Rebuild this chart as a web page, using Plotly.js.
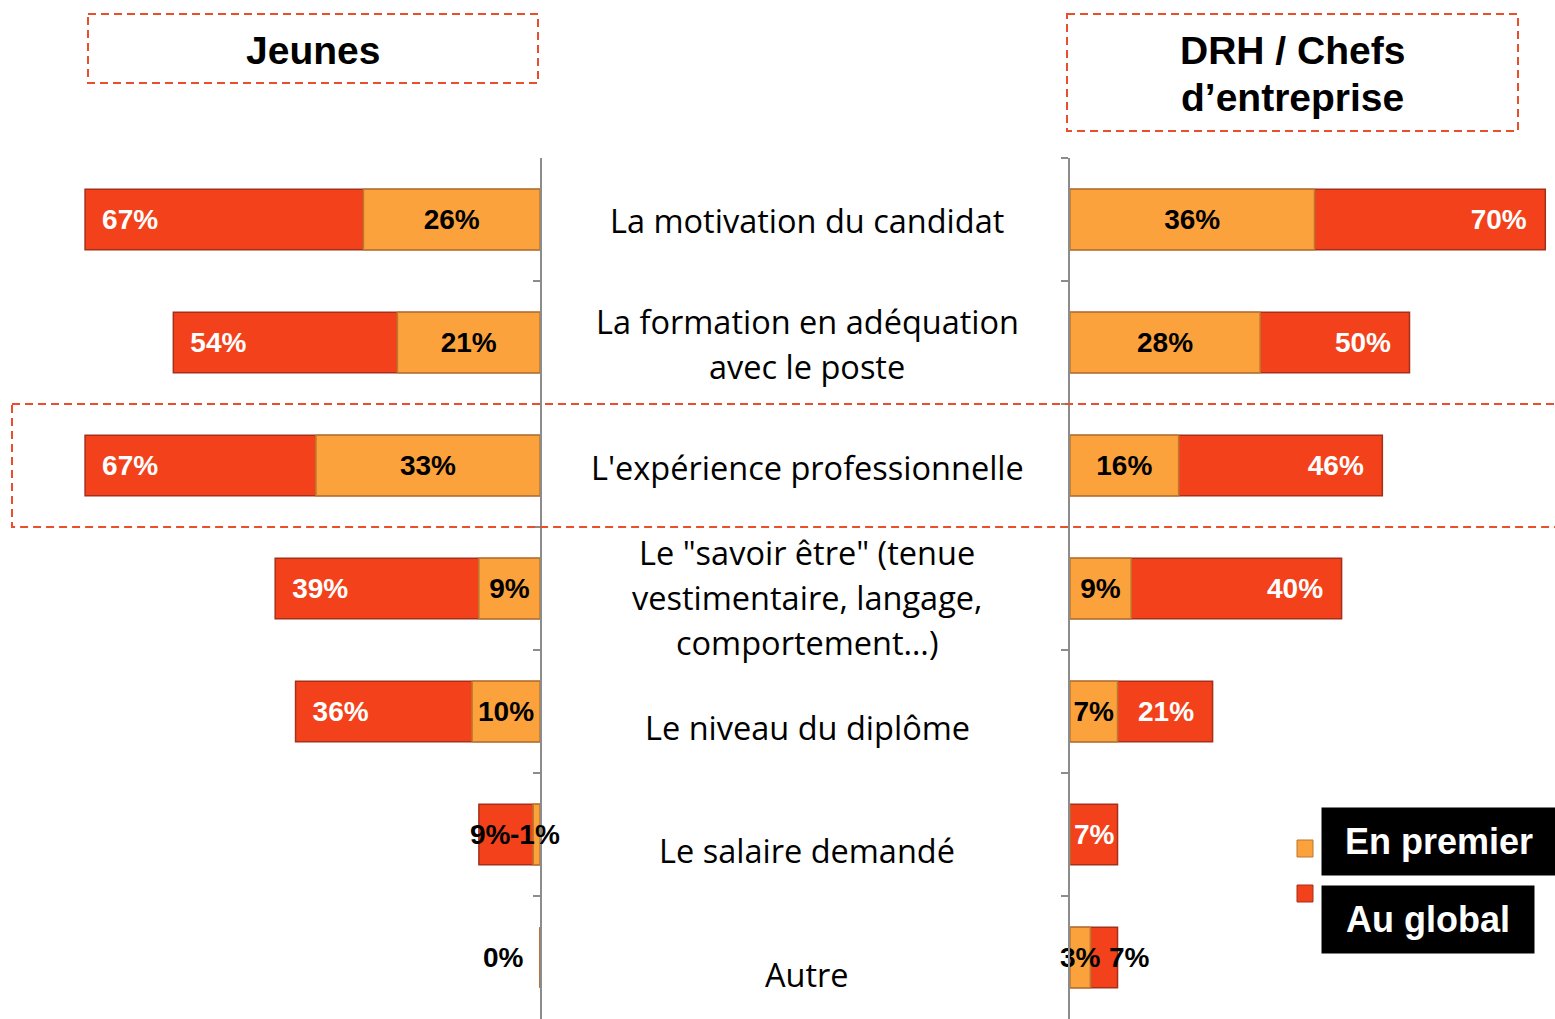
<!DOCTYPE html>
<html><head><meta charset="utf-8">
<script src="https://cdn.plot.ly/plotly-3.0.1.min.js"></script>
<style>html,body{margin:0;padding:0;background:#fff}#chart{width:1555px;height:1019px}</style>
</head><body><div id="chart"></div>
<script>
// ---- data ----
const categories = [
  'La motivation du candidat',
  'La formation en adéquation<br>avec le poste',
  "L'expérience professionnelle",
  'Le "savoir être" (tenue<br>vestimentaire, langage,<br>comportement…)',
  'Le niveau du diplôme',
  'Le salaire demandé',
  'Autre'
];
const jeunesGlobal  = [67, 54, 67, 39, 36, 9, 0];
const jeunesPremier = [26, 21, 33, 9, 10, 1, 0];
const jeunesPremierLabels = ['26%', '21%', '33%', '9%', '10%', '-1%', '0%'];
const drhGlobal  = [70, 50, 46, 40, 21, 7, 7];
const drhPremier = [36, 28, 16, 9, 7, 0, 3];
const legendLabels = ['En premier', 'Au global'];
const panelTitles = ['Jeunes', 'DRH / Chefs<br>d’entreprise'];

// ---- style ----
const W = 1555, H = 1019;
const RED = '#F3421B', RED_LINE = '#A5301A';
const ORANGE = '#FBA23C', ORANGE_LINE = '#B9792F';
const DASH = '#EA4F2C';
const LABEL_FONT = 'Liberation Sans, Arial, sans-serif';
const px = v => v / W, py = v => 1 - v / H;
const pad = v => (v >= 15 ? '\u2002' : '');
const padR = v => (v >= 15 ? '\u00A0\u00A0' : '');
const labelFont = c => ({family: LABEL_FONT, size: 28, weight: 'bold', color: c});

const common = {type: 'bar', orientation: 'h', width: 0.49, textangle: 0,
  constraintext: 'none', cliponaxis: false, hoverinfo: 'skip', showlegend: false};

// labels for the tiny bars are placed as annotations below (index 5 left, 6 right)
const jRedText = jeunesGlobal.map((v, i) => i === 5 ? '' : pad(v) + v + '%');
const jOrText = jeunesPremierLabels.map((t, i) => i === 5 ? '' : t);
const dRedText = drhGlobal.map((v, i) => i === 6 ? '' : v + '%' + padR(v));

const traces = [
  Object.assign({}, common, {
    name: legendLabels[1], x: jeunesGlobal, y: categories, xaxis: 'x', yaxis: 'y',
    marker: {color: RED, line: {color: RED_LINE, width: 1.5}},
    text: jRedText, textposition: 'inside', insidetextanchor: 'end',
    textfont: labelFont('#fff')
  }),
  Object.assign({}, common, {
    name: legendLabels[0], x: jeunesPremier, y: categories, xaxis: 'x', yaxis: 'y',
    marker: {color: ORANGE, line: {color: ORANGE_LINE, width: 1.5}},
    text: jOrText, textposition: 'inside', insidetextanchor: 'middle',
    textfont: labelFont('#000')
  }),
  Object.assign({}, common, {
    name: legendLabels[1], x: drhGlobal, y: categories, xaxis: 'x2', yaxis: 'y2',
    marker: {color: RED, line: {color: RED_LINE, width: 1.5}},
    text: dRedText, textposition: 'inside', insidetextanchor: 'end',
    textfont: labelFont('#fff')
  }),
  Object.assign({}, common, {
    name: legendLabels[0], x: drhPremier, y: categories, xaxis: 'x2', yaxis: 'y2',
    marker: {color: ORANGE, line: {color: ORANGE_LINE, width: 1.5}},
    text: drhPremier.map(v => v + '%'), textposition: 'inside', insidetextanchor: 'middle',
    textfont: labelFont('#000')
  })
];

const SCALE = 6.79; // px per percent
const yDom = [0, (H - 158) / H];
const yAxisBase = {type: 'category', range: [categories.length - 0.5, -0.5], domain: yDom,
  showticklabels: false, showgrid: false, zeroline: false, showline: true,
  linecolor: '#8C8C8C', linewidth: 2, tickson: 'boundaries', ticklen: 7,
  tickcolor: '#8C8C8C', tickwidth: 2, fixedrange: true};

const annotations = [];
// category labels (one annotation per line)
const rowShift = [-1, -1, -2, -9, -16, -16, -17];
categories.forEach((c, i) => {
  const lines = c.split('<br>');
  const n = lines.length;
  lines.forEach((ln, j) => {
    annotations.push({xref: 'paper', x: px(807), yref: 'y', y: c, text: ln,
      showarrow: false, xanchor: 'center', yanchor: 'middle',
      yshift: -((j - (n - 1) / 2) * 45) + rowShift[i],
      font: {family: 'Open Sans, sans-serif', size: 32.5, color: '#000'}});
  });
});
// labels of zero / tiny bars
annotations.push({xref: 'x', x: jeunesGlobal[6], yref: 'y', y: categories[6],
  text: jeunesGlobal[6] + '%', showarrow: false, xanchor: 'right', yanchor: 'middle',
  xshift: -14, font: labelFont('#000')});
annotations.push({xref: 'x', x: jeunesGlobal[5], yref: 'y', y: categories[5],
  text: jeunesGlobal[5] + '%', showarrow: false, xanchor: 'left', yanchor: 'middle',
  xshift: -11, font: labelFont('#000')});
annotations.push({xref: 'x', x: 0, yref: 'y', y: categories[5],
  text: jeunesPremierLabels[5], showarrow: false, xanchor: 'right', yanchor: 'middle',
  xshift: 22, font: labelFont('#000')});
annotations.push({xref: 'x2', x: drhGlobal[6], yref: 'y2', y: categories[6],
  text: drhGlobal[6] + '%', showarrow: false, xanchor: 'left', yanchor: 'middle',
  xshift: -11, font: labelFont('#000')});
// panel titles
annotations.push({xref: 'paper', yref: 'paper', x: px(313), y: py(50), text: panelTitles[0],
  showarrow: false, xanchor: 'center', yanchor: 'middle',
  font: {family: LABEL_FONT, size: 39, weight: 'bold', color: '#000'}});
panelTitles[1].split('<br>').forEach((ln, j) => {
  annotations.push({xref: 'paper', yref: 'paper', x: px(1292), y: py(50 + 48 * j), text: ln,
    showarrow: false, xanchor: 'center', yanchor: 'middle',
    font: {family: LABEL_FONT, size: 39, weight: 'bold', color: '#000'}});
});
// legend boxes
annotations.push({xref: 'paper', yref: 'paper', x: px(1321), y: py(807), text: legendLabels[0],
  showarrow: false, xanchor: 'left', yanchor: 'top', width: 234, height: 67, borderpad: 0,
  bgcolor: '#000', align: 'center',
  font: {family: LABEL_FONT, size: 36, weight: 'bold', color: '#fff'}});
annotations.push({xref: 'paper', yref: 'paper', x: px(1321), y: py(885), text: legendLabels[1],
  showarrow: false, xanchor: 'left', yanchor: 'top', width: 212, height: 67, borderpad: 0,
  bgcolor: '#000', align: 'center',
  font: {family: LABEL_FONT, size: 36, weight: 'bold', color: '#fff'}});

const dashLine = {color: DASH, width: 2, dash: '8px,5px'};
const shapes = [
  {type: 'rect', xref: 'paper', yref: 'paper', x0: px(88), x1: px(538), y0: py(14), y1: py(83), line: dashLine},
  {type: 'rect', xref: 'paper', yref: 'paper', x0: px(1067), x1: px(1518), y0: py(14), y1: py(131), line: dashLine},
  {type: 'rect', xref: 'paper', yref: 'y', x0: px(12), x1: 1.01, y0: 1.5, y1: 2.5, line: dashLine},
  {type: 'rect', xref: 'paper', yref: 'paper', x0: px(1297), x1: px(1313), y0: py(840), y1: py(857),
    fillcolor: ORANGE, line: {color: ORANGE_LINE, width: 1}},
  {type: 'rect', xref: 'paper', yref: 'paper', x0: px(1297), x1: px(1313), y0: py(885), y1: py(902),
    fillcolor: RED, line: {color: RED_LINE, width: 1}}
];

const layout = {
  width: W, height: H, margin: {l: 0, r: 0, t: 0, b: 0},
  paper_bgcolor: '#fff', plot_bgcolor: 'rgba(0,0,0,0)',
  barmode: 'overlay', showlegend: false,
  xaxis: {domain: [0, px(540)], range: [540 / SCALE, 0], visible: false, fixedrange: true},
  xaxis2: {domain: [px(1070), 1], range: [0, (W - 1070) / SCALE], visible: false, fixedrange: true},
  yaxis: Object.assign({}, yAxisBase, {anchor: 'x', side: 'right', ticks: 'inside'}),
  yaxis2: Object.assign({}, yAxisBase, {anchor: 'x2', side: 'left', ticks: 'outside'}),
  annotations: annotations,
  shapes: shapes
};

Plotly.newPlot('chart', traces, layout, {displayModeBar: false, staticPlot: true});
</script>
</body></html>
